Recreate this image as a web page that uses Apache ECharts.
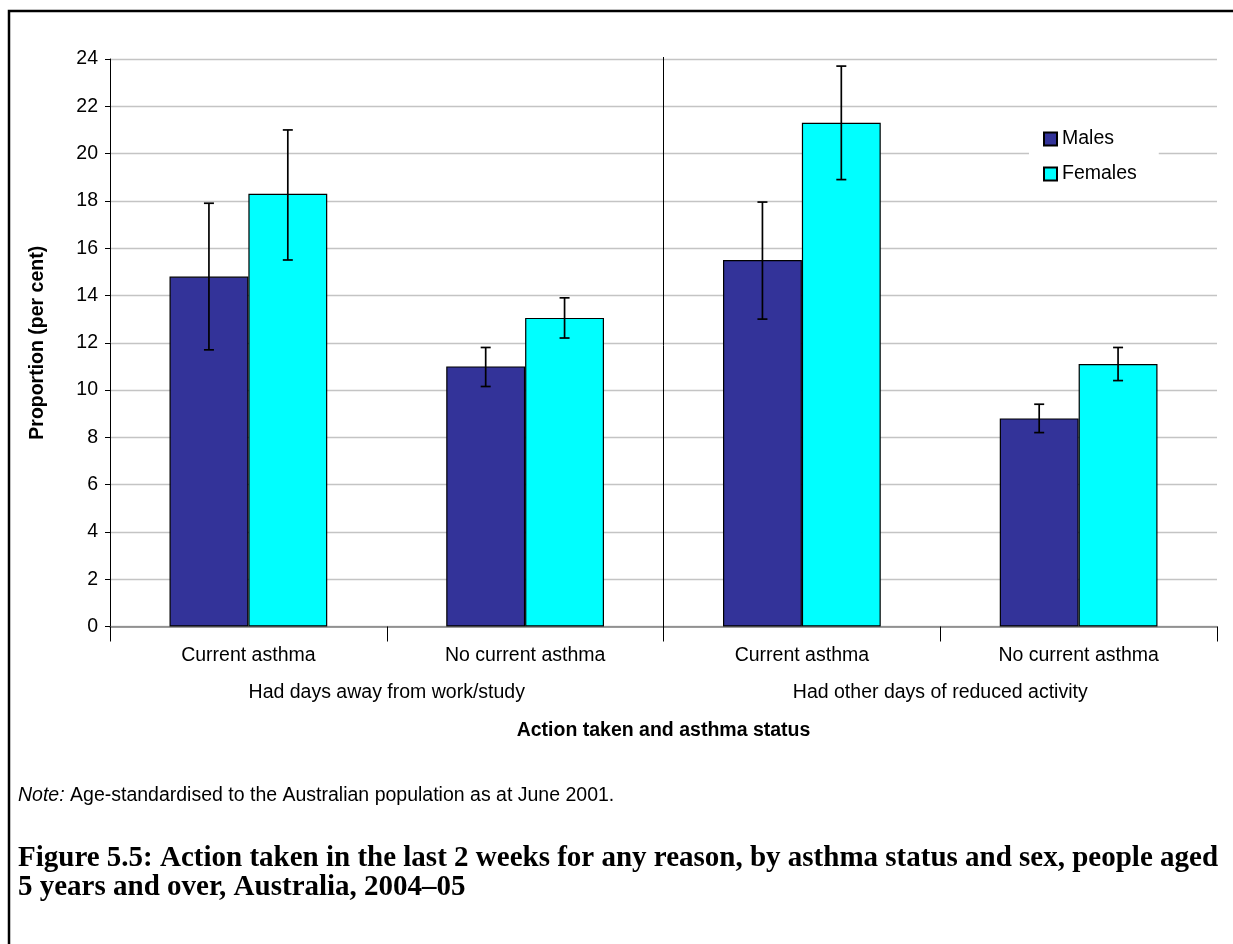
<!DOCTYPE html>
<html>
<head>
<meta charset="utf-8">
<script src="https://cdn.jsdelivr.net/npm/echarts@6/dist/echarts.min.js"></script>
<style>
  html, body { margin: 0; padding: 0; background: #fff; }
  #chart { width: 1233px; height: 944px; }
</style>
</head>
<body>
<div id="chart"></div>
<script>
// Asthma status within each action group
const categories = ['Current asthma', 'No current asthma', 'Current asthma', 'No current asthma'];
// Outer grouping: action taken, and how many inner categories each spans
const groups = ['Had days away from work/study', 'Had other days of reduced activity'];
const groupSizes = [2, 2];
const yTicks = [0, 24, 2]; // min, max, step

// Age-standardised proportions (per cent)
const males = [14.8, 11.0, 15.5, 8.8];
const females = [18.3, 13.05, 21.3, 11.1];
// 95% confidence interval bounds
const malesLow = [11.7, 10.15, 13.0, 8.2];
const malesHigh = [17.9, 11.8, 17.95, 9.4];
const femalesLow = [15.5, 12.2, 18.9, 10.4];
const femalesHigh = [21.0, 13.9, 23.7, 11.8];

const FONT = '"Liberation Sans", Arial, sans-serif';
const FS = 19.5;
const BAR_FRAC = 0.285;

function errorData(low, high) {
  return low.map((l, i) => [i, l, high[i]]);
}

function errorRenderer(side) {
  return function (params, api) {
    const catW = api.size([1, 0])[0];
    const dx = side * catW * BAR_FRAC / 2;
    const lo = api.coord([api.value(0), api.value(1)]);
    const hi = api.coord([api.value(0), api.value(2)]);
    const x = lo[0] + dx;
    const cap = 5;
    const style = { stroke: '#000', lineWidth: 1.7 };
    return {
      type: 'group',
      children: [
        { type: 'line', shape: { x1: x, y1: lo[1], x2: x, y2: hi[1] }, style },
        { type: 'line', shape: { x1: x - cap, y1: lo[1], x2: x + cap, y2: lo[1] }, style },
        { type: 'line', shape: { x1: x - cap, y1: hi[1], x2: x + cap, y2: hi[1] }, style }
      ]
    };
  };
}

// Boundaries between outer groups (index of the last inner category of each group except the last)
const dividerData = [];
groupSizes.slice(0, -1).reduce((acc, n) => { dividerData.push([acc + n - 1]); return acc + n; }, 0);

function dividerRenderer(params, api) {
  const catW = api.size([1, 0])[0];
  const x = api.coord([api.value(0), 0])[0] + catW / 2;
  const top = params.coordSys.y;
  const bottom = params.coordSys.y + params.coordSys.height;
  return {
    type: 'line',
    shape: { x1: x, y1: top - 2, x2: x, y2: bottom + 7 },
    style: { stroke: '#000', lineWidth: 1 }
  };
}

const chart = echarts.init(document.getElementById('chart'), null, { renderer: 'canvas' });

chart.setOption({
  backgroundColor: '#fff',
  animation: false,
  textStyle: { fontFamily: FONT, color: '#000' },
  grid: { left: 110, right: 16, top: 59, bottom: 317.5, containLabel: false },
  legend: {
    data: ['Males', 'Females'],
    orient: 'vertical',
    left: 1029,
    top: 119,
    padding: [10, 22, 10, 14],
    backgroundColor: '#fff',
    itemWidth: 13,
    itemHeight: 13,
    itemGap: 15,
    icon: 'rect',
    textStyle: { fontFamily: FONT, fontSize: FS, color: '#000' }
  },
  xAxis: [
    {
      type: 'category',
      data: categories,
      position: 'bottom',
      axisLine: { show: true, lineStyle: { color: '#808080', width: 1.5 } },
      axisTick: { show: true, length: 15, lineStyle: { color: '#000' } },
      axisLabel: { fontFamily: FONT, fontSize: FS, color: '#000', margin: 19 },
      splitLine: { show: false },
      name: 'Action taken and asthma status',
      nameLocation: 'middle',
      nameGap: 94,
      nameTextStyle: { fontFamily: FONT, fontSize: FS, fontWeight: 'bold', color: '#000' }
    },
    {
      type: 'category',
      data: groups,
      position: 'bottom',
      axisLine: { show: false },
      axisTick: { show: false },
      axisLabel: { fontFamily: FONT, fontSize: FS, color: '#000', margin: 56 },
      splitLine: { show: false }
    }
  ],
  yAxis: {
    type: 'value',
    min: yTicks[0],
    max: yTicks[1],
    interval: yTicks[2],
    axisLine: { show: true, lineStyle: { color: '#000', width: 1 } },
    axisTick: { show: true, length: 5, lineStyle: { color: '#000' } },
    axisLabel: { fontFamily: FONT, fontSize: FS, color: '#000', margin: 12 },
    splitLine: { show: true, lineStyle: { color: '#c4c4c4', width: 1.3 } },
    name: 'Proportion (per cent)',
    nameLocation: 'middle',
    nameRotate: 90,
    nameGap: 62,
    nameTextStyle: { fontFamily: FONT, fontSize: FS, fontWeight: 'bold', color: '#000' }
  },
  series: [
    {
      name: 'Males',
      type: 'bar',
      xAxisIndex: 0,
      data: males,
      barWidth: (BAR_FRAC * 100) + '%',
      barGap: '0%',
      itemStyle: { color: '#333399', borderColor: '#000', borderWidth: 1.2 }
    },
    {
      name: 'Females',
      type: 'bar',
      xAxisIndex: 0,
      data: females,
      barWidth: (BAR_FRAC * 100) + '%',
      barGap: '0%',
      itemStyle: { color: '#00ffff', borderColor: '#000', borderWidth: 1.2 }
    },
    {
      name: 'Males CI',
      type: 'custom',
      xAxisIndex: 0,
      renderItem: errorRenderer(-1),
      encode: { x: 0, y: [1, 2] },
      data: errorData(malesLow, malesHigh),
      z: 10
    },
    {
      name: 'Females CI',
      type: 'custom',
      xAxisIndex: 0,
      renderItem: errorRenderer(1),
      encode: { x: 0, y: [1, 2] },
      data: errorData(femalesLow, femalesHigh),
      z: 10
    },
    {
      name: 'Group divider',
      type: 'custom',
      xAxisIndex: 0,
      renderItem: dividerRenderer,
      encode: { x: 0 },
      data: dividerData,
      clip: false,
      z: 1
    }
  ],
  graphic: [
    {
      type: 'polyline',
      shape: { points: [[9, 944], [9, 11], [1233, 11]] },
      style: { stroke: '#000', lineWidth: 2.5, fill: null }
    },
    {
      type: 'text',
      left: 18,
      top: 786,
      style: {
        text: '{i|Note:} Age-standardised to the Australian population as at June 2001.',
        font: FS + 'px ' + FONT,
        fill: '#000',
        rich: {
          i: { fontStyle: 'italic', fontSize: FS, fontFamily: FONT, fill: '#000' }
        }
      }
    },
    {
      type: 'text',
      left: 18,
      top: 844,
      style: {
        text: 'Figure 5.5: Action taken in the last 2 weeks for any reason, by asthma status and sex, people aged\n5 years and over, Australia, 2004\u201305',
        font: 'bold 29px "Liberation Serif", "DejaVu Serif", serif',
        lineHeight: 29,
        fill: '#000'
      }
    }
  ]
});
</script>
</body>
</html>
